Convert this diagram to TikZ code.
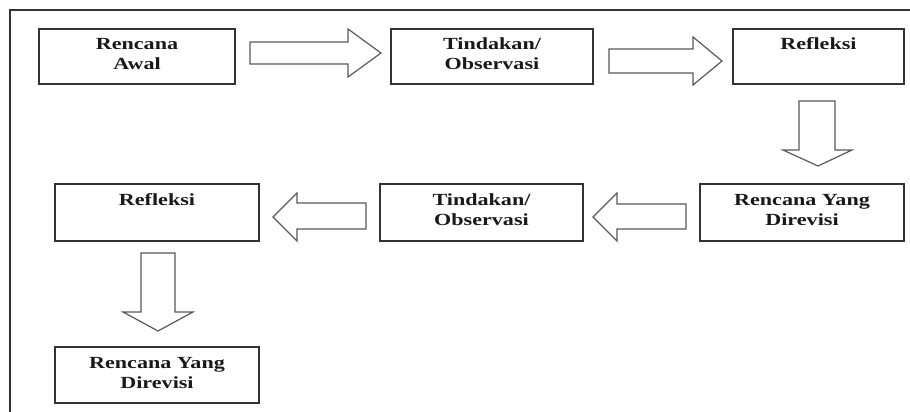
\documentclass[tikz,border=0pt]{standalone}
\usepackage{fontspec}
\setmainfont{Liberation Serif}[FakeStretch=1.3]
\newcommand{\boxtxt}[3]{\parbox[c][#2pt][t]{#1pt}{\centering\fontsize{17}{20}\selectfont\bfseries\rule{0pt}{21pt}#3\par}}
\begin{document}
\begin{tikzpicture}[x=1pt,y=-1pt,
  stagebox/.style={draw=black!80, line width=1.4pt, inner sep=0pt, text=black!90},
  barrow/.style={draw=black!65, line width=1.2pt, line join=miter, fill=white},
  frameline/.style={draw=black!80, line width=1.6pt}]
\useasboundingbox (0,0) rectangle (910,412);
\draw[frameline] (10,412) -- (10,10) -- (910,10);
% row 1
\node[stagebox] (b1) at (137,56.5) {\boxtxt{196}{55}{Rencana\\Awal}};
\node[stagebox] (b2) at (492,56.5) {\boxtxt{202}{55}{Tindakan/\\Observasi}};
\node[stagebox] (b3) at (818.5,56.5) {\boxtxt{171}{55}{Refleksi}};
% row 2
\node[stagebox] (c1) at (802,212.5) {\boxtxt{204}{57}{Rencana Yang\\Direvisi}};
\node[stagebox] (c2) at (481.5,212.5) {\boxtxt{203}{57}{Tindakan/\\Observasi}};
\node[stagebox] (c3) at (157,212.5) {\boxtxt{204}{57}{Refleksi}};
% row 3
\node[stagebox] (d1) at (157,375) {\boxtxt{204}{56}{Rencana Yang\\Direvisi}};
% block arrows
\draw[barrow] (250,42) -- (348,42) -- (348,29) -- (381,53) -- (348,77) -- (348,64) -- (250,64) -- cycle;
\draw[barrow] (609,49) -- (693,49) -- (693,37) -- (722,61) -- (693,85) -- (693,73) -- (609,73) -- cycle;
\draw[barrow] (799,101) -- (835,101) -- (835,150) -- (852,150) -- (818,166) -- (783,150) -- (799,150) -- cycle;
\draw[barrow] (686,204) -- (617,204) -- (617,193) -- (593,217) -- (617,241) -- (617,229) -- (686,229) -- cycle;
\draw[barrow] (366,203) -- (297,203) -- (297,193) -- (273,217) -- (297,241) -- (297,229) -- (366,229) -- cycle;
\draw[barrow] (141,253) -- (175,253) -- (175,312) -- (193,312) -- (158,331) -- (123,312) -- (141,312) -- cycle;
\end{tikzpicture}
\end{document}
